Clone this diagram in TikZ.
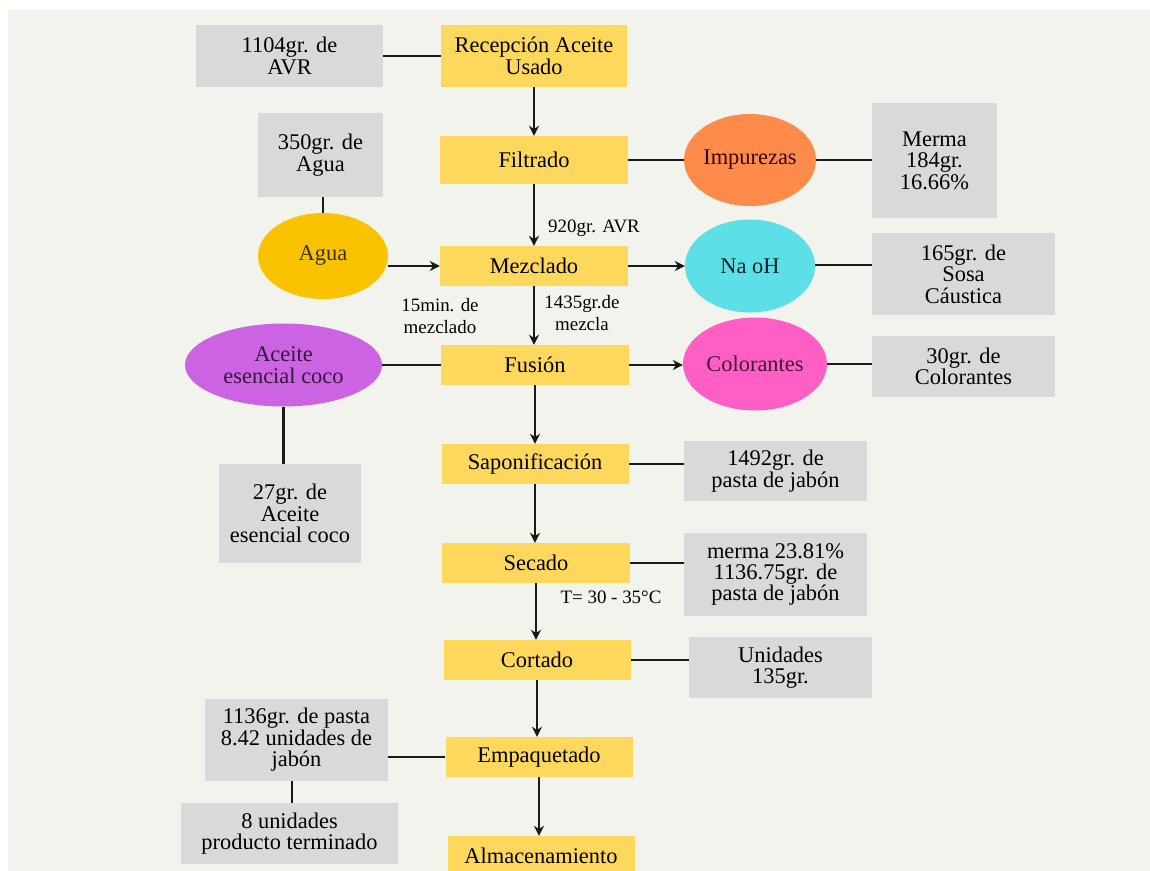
\documentclass[tikz,border=0pt]{standalone}
\usepackage{fontspec}
\setmainfont{Liberation Serif}
\usetikzlibrary{shapes.geometric,arrows.meta,calc}
\definecolor{bgc}{HTML}{F3F3EE}
\definecolor{ybox}{HTML}{FDD85C}
\definecolor{gbox}{HTML}{D9D9D9}
\definecolor{aguac}{HTML}{F9C302}
\definecolor{impc}{HTML}{FF8B4A}
\definecolor{naohc}{HTML}{5CDFE6}
\definecolor{colc}{HTML}{FF5EC4}
\definecolor{acec}{HTML}{CB63E3}
\newcommand\bigtxt{\fontsize{22.5}{21.5}\selectfont}
\newcommand\smalltxt{\fontsize{19}{23}\selectfont}
\tikzset{
  proc/.style={rectangle, fill=ybox, inner sep=0pt, align=center, font=\bigtxt, text=black},
  data/.style={rectangle, fill=gbox, inner sep=0pt, align=center, font=\bigtxt, text=black},
  blob/.style={ellipse, inner sep=0pt, align=center, font=\bigtxt},
  lbl/.style={inner sep=0pt, align=center, font=\smalltxt, text=black},
  conn/.style={line width=2.4bp, black!90},
  arr/.style={conn, -{Stealth[length=10bp,width=10bp]}}
}
\begin{document}
\begin{tikzpicture}[x=1bp,y=-1bp]
\useasboundingbox (0,0) rectangle (1150,871);
\fill[white] (0,0) rectangle (1150,871);
\fill[bgc] (8,10) rectangle (1150,871);
\begin{scope}
\clip (0,0) rectangle (1150,871);
% main column
\node[proc, minimum width=186bp, minimum height=62bp] (rec) at (534,56) {Recepción Aceite\\Usado};
\node[proc, minimum width=188bp, minimum height=48bp] (fil) at (534,160) {Filtrado};
\node[proc, minimum width=188bp, minimum height=40bp] (mez) at (534,266) {Mezclado};
\node[proc, minimum width=188bp, minimum height=40bp] (fus) at (535,365) {Fusión};
\node[proc, minimum width=187bp, minimum height=40bp] (sap) at (535,464) {Saponificación};
\node[proc, minimum width=188bp, minimum height=40bp] (sec) at (536,563) {Secado};
\node[proc, minimum width=187bp, minimum height=40bp] (cor) at (537,660) {Cortado};
\node[proc, minimum width=187bp, minimum height=40bp] (emp) at (539,757) {Empaquetado};
\node[proc, minimum width=187bp, minimum height=40bp] (alm) at (541,856) {Almacenamiento};
% side data boxes
\node[data, minimum width=187bp, minimum height=62bp] (avr) at (289.5,56) {1104gr. de\\AVR};
\node[data, minimum width=125bp, minimum height=84bp] (a350) at (320.5,155) {350gr. de\\Agua};
\node[data, minimum width=125bp, minimum height=115bp] (merma) at (934.5,160.5) {Merma\\184gr.\\16.66\%};
\node[data, minimum width=183bp, minimum height=82bp] (sosa) at (963.5,274) {165gr. de\\Sosa\\Cáustica};
\node[data, minimum width=183bp, minimum height=61bp] (colb) at (963.5,366.5) {30gr. de\\Colorantes};
\node[data, minimum width=142bp, minimum height=99bp] (aceb) at (290,513.5) {27gr. de\\Aceite\\esencial coco};
\node[data, minimum width=183bp, minimum height=60bp] (pasta) at (775.5,471) {1492gr. de\\pasta de jabón};
\node[data, minimum width=183bp, minimum height=83bp] (merma2) at (775.5,574.5) {merma 23.81\%\\1136.75gr. de\\pasta de jabón};
\node[data, minimum width=183bp, minimum height=61bp] (unid) at (780.5,667.5) {Unidades\\135gr.};
\node[data, minimum width=183bp, minimum height=82bp] (pack) at (296.5,740) {1136gr. de pasta\\8.42 unidades de\\jabón};
\node[data, minimum width=217bp, minimum height=61bp] (final) at (289.5,833.5) {8 unidades\\producto terminado};
% ellipses
\node[blob, fill=aguac, text={black!75!aguac}, minimum width=130bp, minimum height=86bp] (agua) at (323,256) {Agua};
\node[blob, fill=impc, text={black!80!red}, minimum width=130bp, minimum height=92bp] (imp) at (750,160) {Impurezas};
\node[blob, fill=naohc, text={black!85!naohc}, minimum width=130bp, minimum height=93bp] (naoh) at (750,266) {Na oH};
\node[blob, fill=colc, text={black!75!colc}, minimum width=144bp, minimum height=93bp] (col) at (755,364) {Colorantes};
\node[blob, fill=acec, text={black!75!acec}, minimum width=197bp, minimum height=83bp] (ace) at (283.5,365) {Aceite\\esencial coco};
% labels
\node[lbl] (l920) at (594,228) {920gr. AVR};
\node[lbl] (l15) at (440,316) {15min. de\\mezclado};
\node[lbl] (l1435) at (582,313) {1435gr.de\\mezcla};
\node[lbl] (lT) at (611,597) {T= 30 - 35°C};
% main flow arrows
\draw[arr] (rec.south) -- (rec.south |- fil.north);
\draw[arr] (fil.south) -- (fil.south |- mez.north);
\draw[arr] (mez.south) -- (mez.south |- fus.north);
\draw[arr] (fus.south) -- (fus.south |- sap.north);
\draw[arr] (sap.south) -- (sap.south |- sec.north);
\draw[arr] (sec.south) -- (sec.south |- cor.north);
\draw[arr] (cor.south) -- (cor.south |- emp.north);
\draw[arr] (emp.south) -- (emp.south |- alm.north);
% side connectors
\draw[conn] (avr.east) -- (avr.east -| rec.west);
\draw[conn] (a350.south -| agua.north) -- (agua.north);
\draw[arr] (mez.west -| agua.east) -- (mez.west);
\draw[conn] (fil.east) -- (fil.east -| imp.west);
\draw[conn] (imp.east) -- (imp.east -| merma.west);
\draw[arr] (mez.east) -- (mez.east -| naoh.west);
\draw[conn] ($(naoh.east)+(0,-1)$) -- ($(naoh.east -| sosa.west)+(0,-1)$);
\draw[arr] (fus.east) -- (fus.east -| col.west);
\draw[conn] (col.east) -- (col.east -| colb.west);
\draw[conn] (fus.west) -- (fus.west -| ace.east);
\draw[conn] (ace.south) -- (ace.south |- aceb.north);
\draw[conn] (sap.east) -- (sap.east -| pasta.west);
\draw[conn] (sec.east) -- (sec.east -| merma2.west);
\draw[conn] (cor.east) -- (cor.east -| unid.west);
\draw[conn] (emp.west) -- (emp.west -| pack.east);
\coordinate (pk) at ($(pack.south)+(-4.5,0)$);
\draw[conn] (pk) -- (pk |- final.north);
\end{scope}
\end{tikzpicture}
\end{document}
